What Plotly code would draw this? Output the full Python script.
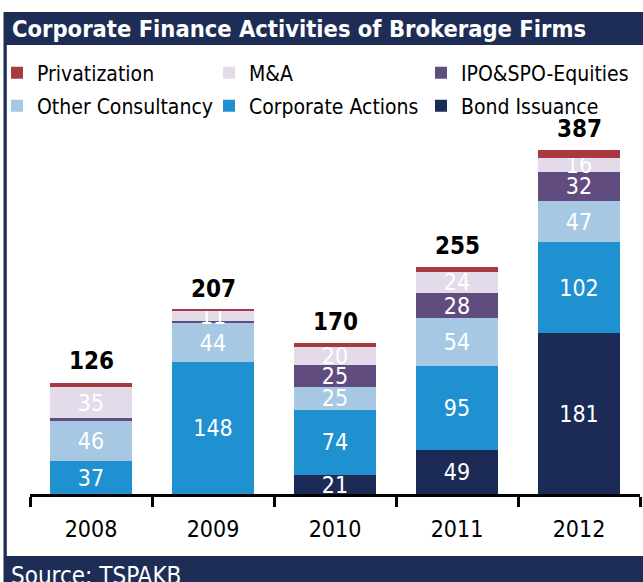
import plotly.graph_objects as go

years = ['2008', '2009', '2010', '2011', '2012']
bond_issuance = [0, 0, 21, 49, 181]
corporate_actions = [37, 148, 74, 95, 102]
other_consultancy = [46, 44, 25, 54, 47]
ipo_spo_equities = [2, 3, 25, 28, 32]
m_and_a = [35, 11, 20, 24, 16]
privatization = [5, 1, 5, 5, 9]
totals = [126, 207, 170, 255, 387]

title_text = 'Corporate Finance Activities of Brokerage Firms'
source_text = 'Source: TSPAKB'

W, H = 643, 582
ML, MR, MT, MB = 30, 3, 140, 88
PW, PH = W - ML - MR, H - MT - MB
PX_PER_UNIT = 0.889


def px(x):
    return (x - ML) / PW


def py(y):
    return (H - MB - y) / PH


FONT = 'DejaVu Sans Condensed'
NAVY = '#1E2D56'

series = [
    ('Bond Issuance', bond_issuance, '#1C2B55', True, 'legend2'),
    ('Corporate Actions', corporate_actions, '#1F91D0', True, 'legend2'),
    ('Other Consultancy', other_consultancy, '#A6C8E2', True, 'legend2'),
    ('IPO&SPO-Equities', ipo_spo_equities, '#614C80', True, 'legend'),
    ('M&A', m_and_a, '#E3DBEA', True, 'legend'),
    ('Privatization', privatization, '#A63A3F', False, 'legend'),
]

fig = go.Figure()
for name, vals, color, labelled, leg in series:
    txt = [str(v) if (labelled and v >= 10) else '' for v in vals]
    fig.add_trace(go.Bar(
        name=name, x=years, y=vals, marker=dict(color=color, line=dict(width=0)),
        text=txt, textposition='inside', insidetextanchor='middle',
        textangle=0, constraintext='none',
        textfont=dict(family=FONT, size=23, color='white'),
        legend=leg, hoverinfo='skip',
    ))

for i, tot in enumerate(totals):
    fig.add_annotation(x=i, y=tot, text='<b>%d</b>' % tot, showarrow=False,
                       yanchor='bottom', yshift=5,
                       font=dict(family=FONT, size=24, color='black'))

# title band, left border, source band
fig.add_shape(type='rect', xref='paper', yref='paper', x0=px(4), x1=px(643),
              y0=py(45), y1=py(12), fillcolor=NAVY, line=dict(width=0), layer='above')
fig.add_shape(type='rect', xref='paper', yref='paper', x0=px(3.5), x1=px(6.8),
              y0=py(582), y1=py(12), fillcolor=NAVY, line=dict(width=0), layer='above')
fig.add_shape(type='rect', xref='paper', yref='paper', x0=px(4), x1=px(643),
              y0=py(582), y1=py(556), fillcolor=NAVY, line=dict(width=0), layer='above')

fig.add_annotation(xref='paper', yref='paper', x=px(10), y=py(29), text='<b>' + title_text + '</b>',
                   showarrow=False, xanchor='left', yanchor='middle',
                   font=dict(family=FONT, size=23.5, color='white'))
fig.add_annotation(xref='paper', yref='paper', x=px(9), y=py(560), text=source_text,
                   showarrow=False, xanchor='left', yanchor='top',
                   font=dict(family=FONT, size=24, color='white'))

legend_common = dict(orientation='h', xref='paper', yref='paper', x=px(-3), xanchor='left',
                     yanchor='middle', traceorder='reversed', entrywidth=167,
                     entrywidthmode='pixels', font=dict(family=FONT, size=21, color='black'),
                     bgcolor='rgba(0,0,0,0)', borderwidth=0)

fig.update_layout(
    width=W, height=H,
    margin=dict(l=ML, r=MR, t=MT, b=MB, pad=0, autoexpand=False),
    paper_bgcolor='white', plot_bgcolor='white',
    barmode='stack', bargap=0.33,
    showlegend=True,
    legend=dict(legend_common, y=py(73)),
    legend2=dict(legend_common, y=py(106)),
    xaxis=dict(type='category', range=[-0.5, len(years) - 0.5], autorange=False,
               showline=True, linewidth=3, linecolor='black',
               ticks='outside', tickson='boundaries', ticklen=10, tickwidth=3,
               tickcolor='black', showgrid=False, zeroline=False,
               ticklabelstandoff=12,
               tickfont=dict(family=FONT, size=23, color='black')),
    yaxis=dict(visible=False, range=[0, PH / PX_PER_UNIT], showgrid=False, zeroline=False),
)

fig.write_html('out.html', config={'displayModeBar': False},
               post_script="document.body.style.margin='0';document.body.style.overflow='hidden';")
